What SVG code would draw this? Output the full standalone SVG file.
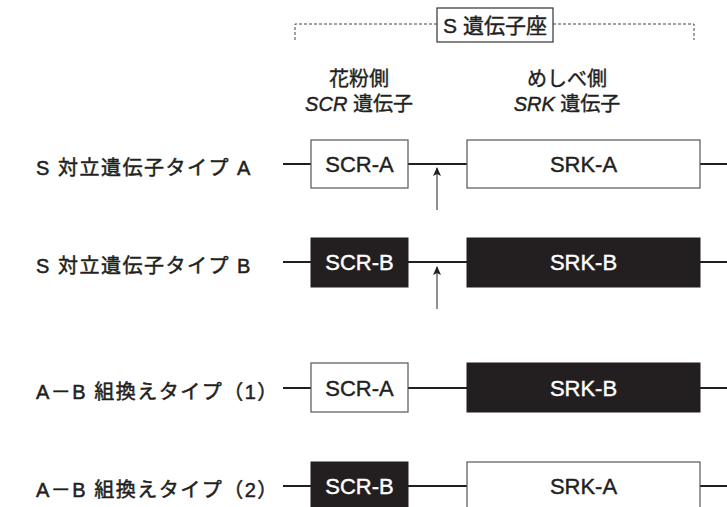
<svg xmlns="http://www.w3.org/2000/svg" width="727" height="507" viewBox="0 0 727 507">
<style>
.lbl{font-family:"Liberation Sans","Noto Sans CJK JP",sans-serif;font-size:20px;fill:#231f20;font-weight:normal;letter-spacing:1.5px;stroke:#231f20;stroke-width:0.5}
.hdr{font-family:"Liberation Sans","Noto Sans CJK JP",sans-serif;font-size:20px;fill:#231f20;font-weight:normal;text-anchor:middle;stroke:#231f20;stroke-width:0.4}
.it{font-style:italic}
.box{font-family:"Liberation Sans",sans-serif;font-size:22px;text-anchor:middle;stroke-width:0.4}
.wbox{fill:#fff;stroke:#555;stroke-width:1.2}
.bbox{fill:#231f20;stroke:#231f20;stroke-width:1}
.line{stroke:#231f20;stroke-width:2.2;fill:none}
.arr{stroke:#231f20;stroke-width:1;fill:none}
.dash{stroke:#444;stroke-width:1;stroke-dasharray:3,2;fill:none}
</style>
<defs>
<marker id="ah" markerWidth="8" markerHeight="10" refX="4" refY="1" orient="0" markerUnits="userSpaceOnUse">
<path d="M0,9 L4,0 L8,9 L4,7 Z" fill="#231f20"/>
</marker>
</defs>

<g id="locus">
<path class="dash" d="M295,40 V24 H437 M553,24 H694 V40"/>
<rect x="437" y="8" width="116" height="34" fill="#fff" stroke="#333" stroke-width="1.2"/>
<text class="hdr" x="495" y="33" style="font-size:21px">S 遺伝子座</text>
</g>

<g id="headers">
<text class="hdr" x="359" y="86">花粉側</text>
<text class="hdr" x="359" y="111"><tspan class="it">SCR</tspan> 遺伝子</text>
<text class="hdr" x="567" y="86">めしべ側</text>
<text class="hdr" x="567" y="111"><tspan class="it">SRK</tspan> 遺伝子</text>
</g>

<g id="connectors">
<path class="line" d="M283,164 H311 M408,164 H467 M700,164 H727"/>
<path class="line" d="M283,262 H311 M408,262 H467 M700,262 H727"/>
<path class="line" d="M283,388 H311 M408,388 H467 M700,388 H727"/>
<path class="line" d="M283,486 H311 M408,486 H467 M700,486 H727"/>
<line class="arr" x1="437" y1="210" x2="437" y2="168" marker-end="url(#ah)"/>
<line class="arr" x1="437" y1="309" x2="437" y2="267" marker-end="url(#ah)"/>
</g>

<g id="rowA">
<text class="lbl" x="36" y="175">S 対立遺伝子タイプ A</text>
<g id="rowA-scr"><rect class="wbox" x="311" y="140" width="97" height="48"/><text class="box" x="359.5" y="172" fill="#231f20" stroke="#231f20">SCR-A</text></g>
<g id="rowA-srk"><rect class="wbox" x="467" y="140" width="233" height="48"/><text class="box" x="583.5" y="172" fill="#231f20" stroke="#231f20">SRK-A</text></g>
</g>

<g id="rowB">
<text class="lbl" x="36" y="273">S 対立遺伝子タイプ B</text>
<g id="rowB-scr"><rect class="bbox" x="311" y="238" width="97" height="49"/><text class="box" x="359.5" y="270" fill="#fff" stroke="#fff">SCR-B</text></g>
<g id="rowB-srk"><rect class="bbox" x="467" y="238" width="233" height="49"/><text class="box" x="583.5" y="270" fill="#fff" stroke="#fff">SRK-B</text></g>
</g>

<g id="row1">
<text class="lbl" x="36" y="399">A－B 組換えタイプ（1）</text>
<g id="row1-scr"><rect class="wbox" x="311" y="363" width="97" height="49"/><text class="box" x="359.5" y="396" fill="#231f20" stroke="#231f20">SCR-A</text></g>
<g id="row1-srk"><rect class="bbox" x="467" y="363" width="233" height="49"/><text class="box" x="583.5" y="396" fill="#fff" stroke="#fff">SRK-B</text></g>
</g>

<g id="row2">
<text class="lbl" x="36" y="497">A－B 組換えタイプ（2）</text>
<g id="row2-scr"><rect class="bbox" x="311" y="462" width="97" height="49"/><text class="box" x="359.5" y="494" fill="#fff" stroke="#fff">SCR-B</text></g>
<g id="row2-srk"><rect class="wbox" x="467" y="462" width="233" height="49"/><text class="box" x="583.5" y="494" fill="#231f20" stroke="#231f20">SRK-A</text></g>
</g>
</svg>
